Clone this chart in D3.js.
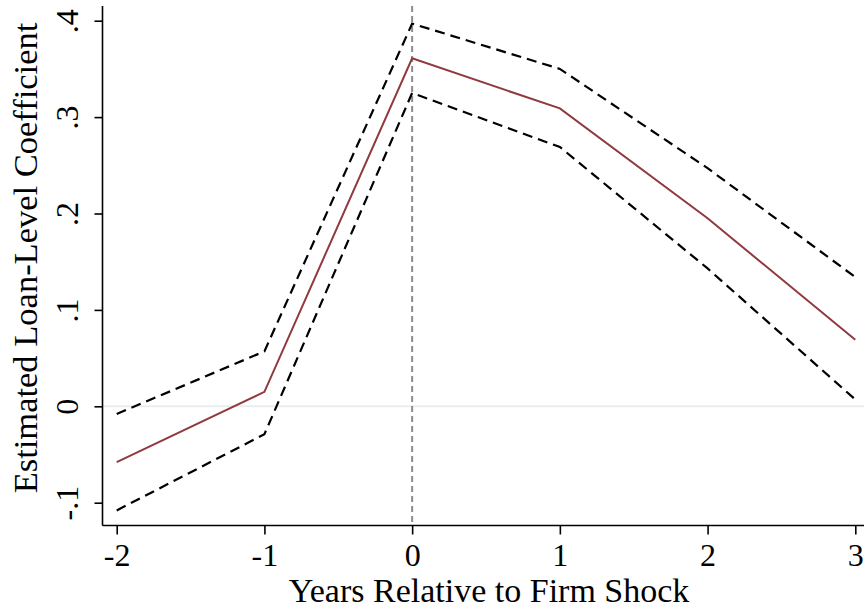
<!DOCTYPE html>
<html>
<head>
<meta charset="utf-8">
<script src="https://cdn.jsdelivr.net/npm/d3@7"></script>
<style>
  html, body { margin: 0; padding: 0; background: #fff; }
  svg { display: block; }
  text { font-family: "Liberation Serif", "Times New Roman", serif; fill: #000; }
</style>
</head>
<body>
<svg id="chart" width="864" height="611"></svg>
<script>
const years = [-2, -1, 0, 1, 2, 3];
const coef  = [-0.058, 0.015, 0.361, 0.309, 0.195, 0.069];
const upper = [-0.008, 0.057, 0.397, 0.350, 0.247, 0.134];
const lower = [-0.108, -0.029, 0.325, 0.269, 0.143, 0.007];
const xTicks = [-2, -1, 0, 1, 2, 3];
const yTicks = [-0.1, 0, 0.1, 0.2, 0.3, 0.4];
const yTickLabels = ["-.1", "0", ".1", ".2", ".3", ".4"];
const xTitle = "Years Relative to Firm Shock";
const yTitle = "Estimated Loan-Level Coefficient";

const svg = d3.select("#chart");
const W = 864, H = 611;
const axisX = 102.5, axisY = 525.5, plotTop = 6;

const x = d3.scaleLinear().domain([-2, 3]).range([116.7, 855.3]);
const y = d3.scaleLinear().domain([-0.1, 0.4]).range([502.7, 20.7]);

// zero reference line
svg.append("line")
  .attr("x1", axisX).attr("x2", W)
  .attr("y1", y(0)).attr("y2", y(0))
  .attr("stroke", "#e8eef1").attr("stroke-width", 2);

// vertical dashed line at 0
svg.append("line")
  .attr("x1", x(0)).attr("x2", x(0))
  .attr("y1", plotTop).attr("y2", axisY)
  .attr("stroke", "#8c8c8c").attr("stroke-width", 2)
  .attr("stroke-dasharray", "6,4");

const line = d3.line().x((d, i) => x(years[i])).y(d => y(d));

[upper, lower].forEach(s => {
  svg.append("path").datum(s)
    .attr("d", line)
    .attr("fill", "none")
    .attr("stroke", "#000")
    .attr("stroke-width", 2.2)
    .attr("stroke-dasharray", "10,6");
});

svg.append("path").datum(coef)
  .attr("d", line)
  .attr("fill", "none")
  .attr("stroke", "#8f3a3f")
  .attr("stroke-width", 2);

// x axis
const xAxis = d3.axisBottom(x).tickValues(xTicks).tickSize(9).tickPadding(5)
  .tickFormat(d => d3.format("d")(d).replace("−", "-"));
const gx = svg.append("g").attr("transform", `translate(0,${axisY})`).call(xAxis);
gx.select(".domain").attr("d", `M${axisX},0H${W}`).attr("stroke", "#000").attr("stroke-width", 1.6);
gx.selectAll(".tick line").attr("stroke", "#000").attr("stroke-width", 1.6);
gx.selectAll(".tick text")
  .attr("font-family", "Liberation Serif, serif")
  .attr("font-size", 32).attr("fill", "#000")
  .attr("dy", null).attr("y", 40);

// y axis
const yAxis = d3.axisLeft(y).tickValues(yTicks).tickSize(8)
  .tickFormat((d, i) => yTickLabels[i]);
const gy = svg.append("g").attr("transform", `translate(${axisX},0)`).call(yAxis);
gy.select(".domain").attr("d", `M0,${plotTop}V${axisY}`).attr("stroke", "#000").attr("stroke-width", 1.6);
gy.selectAll(".tick line").attr("stroke", "#000").attr("stroke-width", 1.6);
gy.selectAll(".tick text")
  .attr("font-family", "Liberation Serif, serif")
  .attr("font-size", 32).attr("fill", "#000")
  .attr("x", null).attr("dy", null)
  .attr("text-anchor", "middle")
  .attr("transform", "translate(-24.5,0) rotate(-90)");

// titles
svg.append("text")
  .attr("x", 489).attr("y", 602)
  .attr("text-anchor", "middle")
  .attr("font-size", 34)
  .text(xTitle);

svg.append("text")
  .attr("transform", "translate(37,258) rotate(-90)")
  .attr("text-anchor", "middle")
  .attr("font-size", 34.5)
  .text(yTitle);
</script>
</body>
</html>
